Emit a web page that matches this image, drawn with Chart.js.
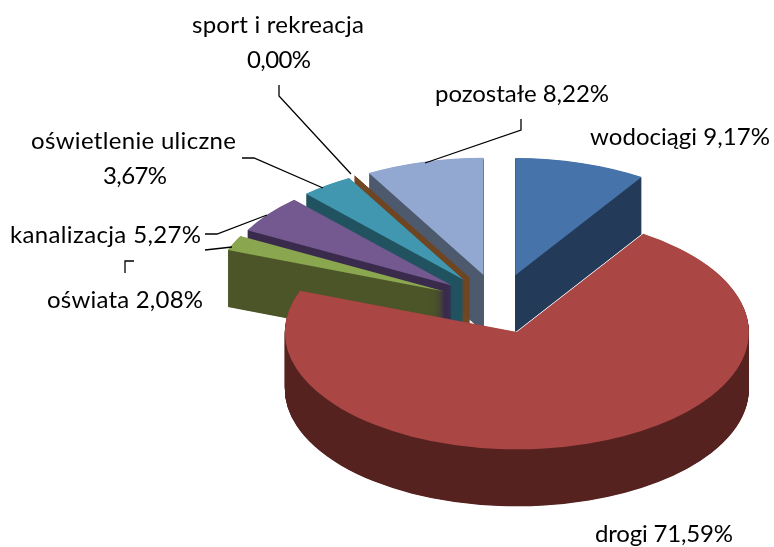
<!DOCTYPE html>
<html><head><meta charset="utf-8">
<style>html,body{margin:0;padding:0;background:#fff}canvas{display:block}</style>
<script src="https://cdn.jsdelivr.net/npm/chart.js@4"></script>
</head><body>
<canvas id="c" width="774" height="547"></canvas>
<script>
const categories = ['wodociągi','drogi','oświata','kanalizacja','oświetlenie uliczne','sport i rekreacja','pozostałe'];
const values = [9.17,71.59,2.08,5.27,3.67,0.004,8.22];
const topColors = ['#4674aa','#aa4744','#8aa64f','#73598f','#4197af','#6f4521','#93a8d0'];
const wallColors = ['#243a59','#552220','#4b5527','#3a2b4d','#215260','#6f4521','#4d5a6e'];
const borderWidths = [0,0,0,0,0,1,0];
const paintOrder = [6,0,5,4,3,2,1];
const RADIUS = 232, TILT = 0.505, DEPTH = 57, EXPLODE = 59, WALL_STEP = 0.5;

const pct = v => v.toFixed(2).replace('.', ',') + '%';
// [text, left x, baseline y, target width]
const labelLayout = [
  [categories[5], 192, 33, 172],
  [pct(values[5]), 247, 68, 64],
  [categories[4], 31, 149, 205],
  [pct(values[4]), 103, 184, 64],
  [categories[6]+' '+pct(values[6]), 435, 102, 174],
  [categories[0]+' '+pct(values[0]), 590, 145, 180],
  [categories[3]+' '+pct(values[3]), 10, 243, 191],
  [categories[2]+' '+pct(values[2]), 47, 308, 156],
  [categories[1]+' '+pct(values[1]), 595, 542, 138]
];
const leaders = [
  [[279,85],[279,96],[351,174]],
  [[242,158],[254,158],[323,188]],
  [[521,119],[521,130],[425,163]],
  [[205,234],[217,234],[267,215]],
  [[205,250],[232,247]],
  [[125,273],[125,261],[134,261]]
];

const pie3d = {
  id:'pie3d',
  beforeDatasetDraw(chart){
    const ctx = chart.ctx, arcs = chart.getDatasetMeta(0).data;
    const cx = arcs[0].x, cy = arcs[0].y;
    const place = (c, arc, d) => {
      const mid = (arc.startAngle + arc.endAngle) / 2;
      c.setTransform(1,0,0,TILT,cx,cy + d);
      c.translate(-cx,-cy);
      c.translate(Math.cos(mid)*EXPLODE, Math.sin(mid)*EXPLODE);
    };
    ctx.save();
    paintOrder.forEach(i => {
      const arc = arcs[i];
      // walls: sweep the slice on a spare layer, then flood the layer with one flat colour
      const layer = document.createElement('canvas');
      layer.width = chart.width; layer.height = chart.height;
      const lc = layer.getContext('2d');
      for (let d = DEPTH; d >= WALL_STEP; d -= WALL_STEP) { place(lc, arc, d); arc.draw(lc); }
      lc.setTransform(1,0,0,1,0,0);
      lc.globalCompositeOperation = 'source-in';
      lc.fillStyle = wallColors[i];
      lc.fillRect(0,0,layer.width,layer.height);
      ctx.setTransform(1,0,0,1,0,0);
      ctx.drawImage(layer,0,0);
      // top face
      place(ctx, arc, 0); arc.draw(ctx);
    });
    ctx.restore();
    return false;
  },
  afterDraw(chart){
    const ctx = chart.ctx;
    ctx.save();
    ctx.strokeStyle = '#000'; ctx.lineWidth = 1.3;
    leaders.forEach(pts => {
      ctx.beginPath();
      pts.forEach((p,i) => i ? ctx.lineTo(p[0],p[1]) : ctx.moveTo(p[0],p[1]));
      ctx.stroke();
    });
    ctx.fillStyle = '#000';
    ctx.font = '24px Lato';
    ctx.textAlign = 'left';
    ctx.textBaseline = 'alphabetic';
    labelLayout.forEach(([t,x,y,w]) => {
      ctx.letterSpacing = '0px';
      const m = ctx.measureText(t).width;
      ctx.letterSpacing = ((w - m) / Math.max(t.length - 1, 1)).toFixed(3) + 'px';
      ctx.fillText(t, x, y);
    });
    ctx.restore();
  }
};

new Chart(document.getElementById('c'), {
  type:'pie',
  data:{labels:categories, datasets:[{
    data:values, backgroundColor:topColors, borderColor:topColors,
    borderWidth:borderWidths, borderJoinStyle:'bevel', clip:false
  }]},
  options:{
    responsive:false, animation:false, devicePixelRatio:1, radius:RADIUS,
    layout:{padding:{left:223,top:60.6,right:0,bottom:0}},
    plugins:{legend:{display:false},tooltip:{enabled:false},title:{display:false}}
  },
  plugins:[pie3d]
});
</script>
</body></html>
